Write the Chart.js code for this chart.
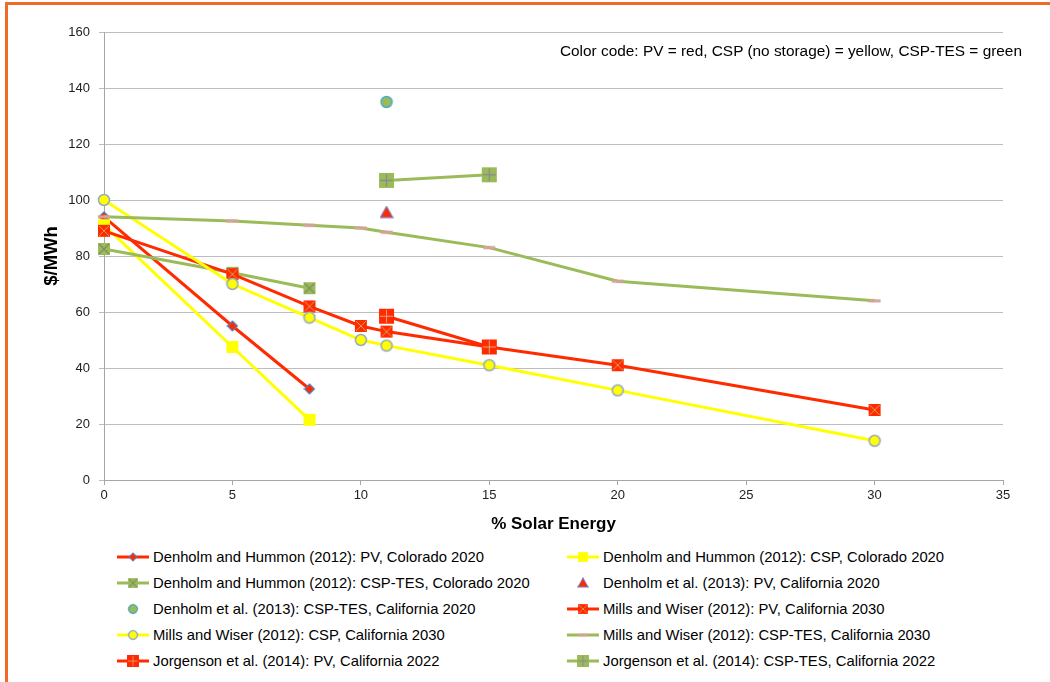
<!DOCTYPE html>
<html>
<head>
<meta charset="utf-8">
<script src="https://cdn.jsdelivr.net/npm/chart.js@4.4.0/dist/chart.umd.min.js"></script>
<style>
    body { margin: 0; background: #fff; font-family: "Liberation Sans", Arial, sans-serif; }
    #wrap { position: relative; width: 1050px; height: 682px; overflow: hidden; }
    #frame { position: absolute; left: 5px; top: 2px; width: 1200px; height: 900px;
             border-top: 3px solid #F26A28; border-left: 3px solid #F26A28; }
    #chartBox { position: absolute; left: 0; top: 0; width: 1050px; height: 539px; }
    #note { position: absolute; right: 28px; top: 42px; font-size: 15.4px; line-height: 18px; color: #000; }
    .leg { position: absolute; height: 20px; display: flex; align-items: center;
           font-size: 14.8px; color: #000; white-space: nowrap; }
    .leg canvas { margin-right: 4px; }
</style>
</head>
<body>
<div id="wrap">
    <div id="frame"></div>
    <div id="chartBox"><canvas id="solarChart"></canvas></div>
    <div id="note">Color code: PV = red, CSP (no storage) = yellow, CSP-TES = green</div>
    <div id="legend"></div>
</div>
<script>
// ---- data ----
const xTickValues = [0, 5, 10, 15, 20, 25, 30, 35];
const yTickValues = [0, 20, 40, 60, 80, 100, 120, 140, 160];

const dhPvX = [0, 5, 8];
const dhPvY = [94, 55, 32.5];
const dhCspX = [0, 5, 8];
const dhCspY = [91, 47.5, 21.5];
const dhTesX = [0, 5, 8];
const dhTesY = [82.5, 74, 68.5];
const d13PvX = [11];
const d13PvY = [95.5];
const d13TesX = [11];
const d13TesY = [135];
const mwPvX = [0, 5, 8, 10, 11, 15, 20, 30];
const mwPvY = [89, 73.5, 62, 55, 53, 47.5, 41, 25];
const mwCspX = [0, 5, 8, 10, 11, 15, 20, 30];
const mwCspY = [100, 70, 58, 50, 48, 41, 32, 14];
const mwTesX = [0, 5, 8, 10, 11, 15, 20, 30];
const mwTesY = [94, 92.5, 91, 90, 88.5, 83, 71, 64];
const jPvX = [11, 15];
const jPvY = [58.5, 47.5];
const jTesX = [11, 15];
const jTesY = [107, 109];

const RED = '#FF2A00', YELLOW = '#FFFF00', GREEN = '#9BBB59';

// markers drawn on small canvases
function marker(kind, size, fill, stroke, lw) {
    const c = document.createElement('canvas');
    const s = size + 2;
    c.width = s; c.height = s;
    const g = c.getContext('2d');
    const m = s / 2, h = size / 2;
    g.fillStyle = fill;
    g.strokeStyle = stroke;
    g.lineWidth = lw || 1;
    if (kind === 'diamond') {
        g.beginPath();
        g.moveTo(m, m - h); g.lineTo(m + h, m); g.lineTo(m, m + h); g.lineTo(m - h, m);
        g.closePath(); g.fill(); g.stroke();
    } else if (kind === 'square') {
        g.fillRect(m - h, m - h, size, size);
    } else if (kind === 'xsquare' || kind === 'plussquare') {
        g.fillRect(m - h, m - h, size, size);
        g.beginPath();
        if (kind === 'xsquare') {
            g.moveTo(m - h + 1, m - h + 1); g.lineTo(m + h - 1, m + h - 1);
            g.moveTo(m + h - 1, m - h + 1); g.lineTo(m - h + 1, m + h - 1);
        } else {
            g.moveTo(m, m - h + 1); g.lineTo(m, m + h - 1);
            g.moveTo(m - h + 1, m); g.lineTo(m + h - 1, m);
        }
        g.stroke();
    } else if (kind === 'circle') {
        g.beginPath();
        g.arc(m, m, h - 0.5, 0, Math.PI * 2);
        g.fill(); g.stroke();
    } else if (kind === 'triangle') {
        g.beginPath();
        g.moveTo(m, m - h); g.lineTo(m + h, m + h * 0.8); g.lineTo(m - h, m + h * 0.8);
        g.closePath(); g.fill(); g.stroke();
    } else if (kind === 'dash') {
        g.fillRect(m - h, m - 1.5, size, 3);
    }
    return c;
}

const pts = (xs, ys) => xs.map((x, i) => ({x: x, y: ys[i]}));

const datasets = [
    {label: 'Denholm and Hummon (2012): PV, Colorado 2020', data: pts(dhPvX, dhPvY), borderColor: RED,
        pointStyle: marker('diamond', 10, RED, '#4F81BD', 1.2)},
    {label: 'Denholm and Hummon (2012): CSP, Colorado 2020', data: pts(dhCspX, dhCspY), borderColor: YELLOW,
        pointStyle: marker('square', 12, YELLOW, YELLOW)},
    {label: 'Denholm and Hummon (2012): CSP-TES, Colorado 2020', data: pts(dhTesX, dhTesY), borderColor: GREEN,
        pointStyle: marker('xsquare', 12, GREEN, '#7D8C68', 1.2)},
    {label: 'Denholm et al. (2013): PV, California 2020', data: pts(d13PvX, d13PvY), borderColor: RED, showLine: false,
        pointStyle: marker('triangle', 12, RED, '#8064A2', 1.2)},
    {label: 'Denholm et al. (2013): CSP-TES, California 2020', data: pts(d13TesX, d13TesY), borderColor: GREEN, showLine: false,
        pointStyle: marker('circle', 12, GREEN, '#4BACC6', 1.5)},
    {label: 'Mills and Wiser (2012): PV, California 2030', data: pts(mwPvX, mwPvY), borderColor: RED,
        pointStyle: marker('xsquare', 12, RED, '#D9A15A', 1)},
    {label: 'Mills and Wiser (2012): CSP, California 2030', data: pts(mwCspX, mwCspY), borderColor: YELLOW,
        pointStyle: marker('circle', 12, YELLOW, '#95A8C4', 1.5)},
    {label: 'Mills and Wiser (2012): CSP-TES, California 2030', data: pts(mwTesX, mwTesY), borderColor: GREEN,
        pointStyle: marker('dash', 12, '#D6A29A', '#D6A29A')},
    {label: 'Jorgenson et al. (2014): PV, California 2022', data: pts(jPvX, jPvY), borderColor: RED,
        pointStyle: marker('plussquare', 15, RED, '#E0A878', 1)},
    {label: 'Jorgenson et al. (2014): CSP-TES, California 2022', data: pts(jTesX, jTesY), borderColor: GREEN,
        pointStyle: marker('plussquare', 15, GREEN, '#8C8C8C', 1.3)}
];

// later series drawn on top, like the original
datasets.forEach((d, i) => {
    d.borderWidth = 3;
    d.pointRadius = 6;
    d.tension = 0;
    d.fill = false;
    d.clip = false;
    d.order = datasets.length - i;
});

const chart = new Chart(document.getElementById('solarChart'), {
    type: 'line',
    data: {datasets: datasets},
    options: {
        responsive: true,
        maintainAspectRatio: false,
        animation: false,
        layout: {padding: {left: 37, right: 47, top: 32, bottom: 0}},
        plugins: {legend: {display: false}, tooltip: {enabled: false}},
        scales: {
            x: {
                type: 'linear', min: 0, max: 35,
                afterBuildTicks: s => { s.ticks = xTickValues.map(v => ({value: v})); },
                afterFit: s => { s.height = 59; },
                grid: {drawOnChartArea: false, color: '#a6a6a6', tickLength: 5},
                border: {color: '#a6a6a6'},
                ticks: {color: '#222', font: {family: 'Liberation Sans', size: 13}, padding: 3, maxRotation: 0},
                title: {display: true, text: '% Solar Energy', color: '#000',
                        font: {family: 'Liberation Sans', size: 17, weight: 'bold'}}
            },
            y: {
                min: 0, max: 160,
                afterBuildTicks: s => { s.ticks = yTickValues.map(v => ({value: v})); },
                afterFit: s => { s.width = 67; },
                grid: {color: '#bdbdbd', tickLength: 5},
                border: {color: '#a6a6a6'},
                ticks: {color: '#222', font: {family: 'Liberation Sans', size: 13}, padding: 9},
                title: {display: true, text: '$/MWh', color: '#000',
                        font: {family: 'Liberation Sans', size: 18.5, weight: 'bold'}}
            }
        }
    }
});

// legend, two columns (row-major, as in the original)
const legend = document.getElementById('legend');
datasets.forEach((d, i) => {
    const row = Math.floor(i / 2), col = i % 2;
    const item = document.createElement('div');
    item.className = 'leg';
    item.style.left = (col === 0 ? 117 : 567) + 'px';
    item.style.top = (547 + row * 26) + 'px';
    const ic = document.createElement('canvas');
    ic.width = 32; ic.height = 20;
    const g = ic.getContext('2d');
    if (d.showLine !== false) {
        g.strokeStyle = d.borderColor;
        g.lineWidth = 3;
        g.beginPath(); g.moveTo(0, 10); g.lineTo(32, 10); g.stroke();
    }
    const p = d.pointStyle, w = p.width * 0.8;
    g.drawImage(p, 16 - w / 2, 10 - w / 2, w, w);
    item.appendChild(ic);
    const t = document.createElement('span');
    t.textContent = d.label;
    item.appendChild(t);
    legend.appendChild(item);
});
</script>
</body>
</html>
